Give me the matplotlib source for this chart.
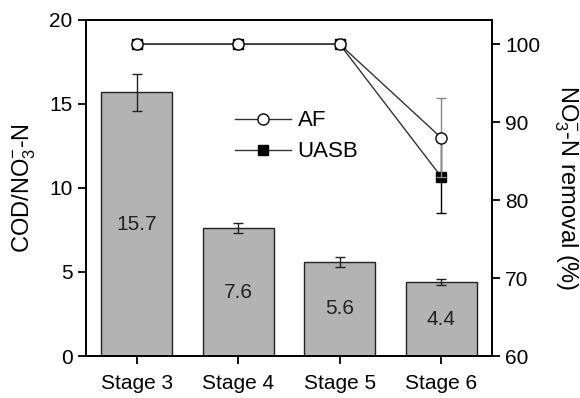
import matplotlib
matplotlib.use("Agg")
import matplotlib.pyplot as plt
from matplotlib.lines import Line2D
import numpy as np

plt.rcParams['font.family'] = ['Liberation Sans', 'DejaVu Sans']
plt.rcParams['mathtext.fontset'] = 'custom'
plt.rcParams['mathtext.rm'] = 'Liberation Sans'
plt.rcParams['mathtext.it'] = 'Liberation Sans'

# data
stages = ['Stage 3', 'Stage 4', 'Stage 5', 'Stage 6']
cod_ratio = [15.7, 7.6, 5.6, 4.4]
cod_err = [1.1, 0.3, 0.3, 0.2]
af_removal = [100, 100, 100, 88]
af_err = [0, 0, 0, 5.1]
uasb_removal = [100, 100, 100, 83]
uasb_err = [0, 0, 0, 4.6]

x = np.arange(len(stages))

fig = plt.figure(figsize=(5.8, 3.98), dpi=100)
ax = fig.add_axes([0.148, 0.1055, 0.7, 0.8445])

ax.bar(x, cod_ratio, width=0.7, color='#b3b3b3', edgecolor='#222222', linewidth=1.0,
       yerr=cod_err, error_kw=dict(ecolor='#222222', elinewidth=1.0, capsize=3.5, capthick=1.0))
for xi, v in zip(x, cod_ratio):
    ax.text(xi, v / 2, f'{v}', ha='center', va='center', fontsize=15, color='#222222')

ax.set_xlim(-0.5, 3.5)
ax.set_ylim(0, 20)
ax.set_yticks([0, 5, 10, 15, 20])
ax.set_xticks(x)
ax.set_xticklabels(stages)
ax.set_ylabel(r'COD/NO$_3^{-}$-N', fontsize=17, labelpad=8)
ax.tick_params(axis='both', direction='out', length=6, width=1.3, labelsize=15)
ax.tick_params(axis='x', pad=7)
for s in ax.spines.values():
    s.set_linewidth(1.3)

ax2 = ax.twinx()
ax2.errorbar(x, uasb_removal, yerr=uasb_err, color='#333333', lw=1.0, marker='s',
             markersize=7, markerfacecolor='black', markeredgecolor='black',
             ecolor='black', elinewidth=1.0, capsize=3.5, zorder=3)
ax2.errorbar(x, af_removal, yerr=af_err, color='#333333', lw=1.0, marker='o',
             markersize=8, markerfacecolor='white', markeredgecolor='black',
             ecolor='#888888', elinewidth=1.0, capsize=3.5, zorder=4)
ax2.set_ylim(60, 103.1)
ax2.set_yticks([60, 70, 80, 90, 100])
ax2.set_ylabel(r'NO$_3^{-}$-N removal (%)', fontsize=17, rotation=270, labelpad=28)
ax2.tick_params(axis='y', direction='out', length=6, width=1.3, labelsize=15)
for s in ax2.spines.values():
    s.set_linewidth(1.3)

handles = [
    Line2D([], [], color='#333333', lw=1.0, marker='o', markersize=8,
           markerfacecolor='white', markeredgecolor='black'),
    Line2D([], [], color='#333333', lw=1.0, marker='s', markersize=7,
           markerfacecolor='black', markeredgecolor='black'),
]
ax2.legend(handles, ['AF', 'UASB'], loc='upper left', bbox_to_anchor=(0.33, 0.777),
           frameon=False, fontsize=16, handlelength=2.5, handletextpad=0.3,
           labelspacing=0.45, borderpad=0.2)

fig.savefig('out.png', dpi=100)
